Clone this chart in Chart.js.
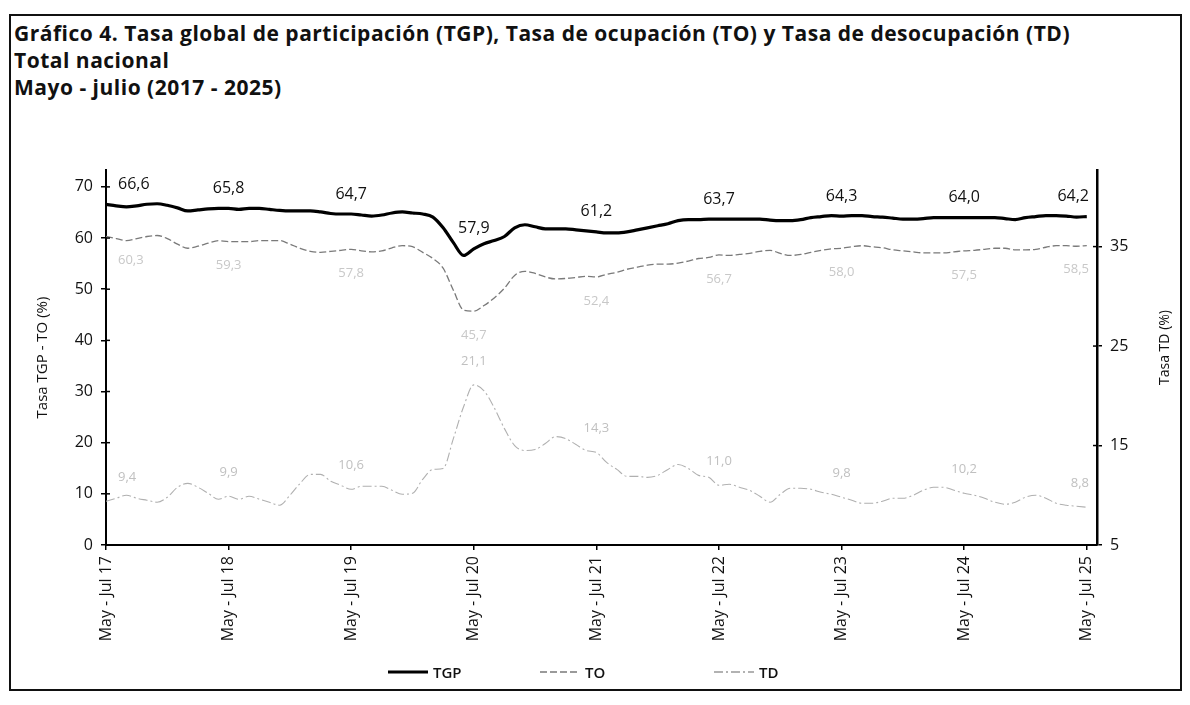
<!DOCTYPE html>
<html>
<head>
<meta charset="utf-8">
<script src="https://cdn.jsdelivr.net/npm/chart.js@4.4.1/dist/chart.umd.min.js"></script>
<style>
html,body{margin:0;padding:0;background:#fff;}
#wrap{position:relative;width:1190px;height:705px;overflow:hidden;background:#fff;}
#frame{position:absolute;left:9px;top:14px;width:1173px;height:677px;border:2px solid #111;box-sizing:border-box;}
#title{position:absolute;left:14px;top:20px;font-family:'Open Sans',sans-serif;font-weight:700;font-size:21px;letter-spacing:0.5px;line-height:27px;color:#111;white-space:nowrap;}
canvas{position:absolute;left:0;top:0;}
.leg{position:absolute;top:661px;height:22px;font-family:'Open Sans',sans-serif;font-weight:600;font-size:15px;line-height:22px;color:#111;}
.leg svg{position:absolute;left:0;top:0;}
.leg span{position:absolute;top:0;}
</style>
</head>
<body>
<div id="wrap">
<div id="frame"></div>
<div id="title">Gráfico 4. Tasa global de participación (TGP), Tasa de ocupación (TO) y Tasa de desocupación (TD)<br>Total nacional<br>Mayo - julio (2017 - 2025)</div>
<canvas id="c" width="1190" height="705"></canvas>
<div id="legend"></div>
</div>
<script>
// ---- data (monthly rolling quarters, May-Jul 2017 ... May-Jul 2025) ----
const xTickLabels = ['May - Jul 17','May - Jul 18','May - Jul 19','May - Jul 20','May - Jul 21','May - Jul 22','May - Jul 23','May - Jul 24','May - Jul 25'];
const labelIdx = [0,12,24,36,48,60,72,84,96];
const yLeftTicks = [0,10,20,30,40,50,60,70];
const yRightTicks = [5,15,25,35];
const seriesNames = ['TGP','TO','TD'];

const tgp = [66.6,66.3,66.1,66.3,66.6,66.7,66.4,65.9,65.3,65.5,65.7,65.8,
             65.8,65.6,65.8,65.8,65.6,65.4,65.3,65.3,65.3,65.1,64.8,64.7,
             64.7,64.5,64.3,64.5,64.9,65.1,64.9,64.7,64.1,62.0,59.1,56.6,
             57.9,58.9,59.5,60.3,62.0,62.6,62.2,61.8,61.8,61.8,61.6,61.4,
             61.2,61.0,61.0,61.2,61.6,62.0,62.4,62.8,63.4,63.6,63.6,63.7,
             63.7,63.7,63.7,63.7,63.7,63.5,63.4,63.4,63.6,64.0,64.2,64.4,
             64.3,64.4,64.4,64.2,64.1,63.9,63.7,63.7,63.8,64.0,64.0,64.0,
             64.0,64.0,64.0,64.0,63.8,63.6,64.0,64.2,64.4,64.4,64.3,64.1,
             64.2];
const to  = [60.3,59.9,59.5,59.9,60.3,60.5,59.9,58.8,58.0,58.4,59.0,59.5,
             59.3,59.3,59.3,59.5,59.5,59.5,58.8,58.0,57.4,57.2,57.4,57.6,
             57.8,57.5,57.3,57.5,58.1,58.5,58.3,57.2,56.0,54.1,49.8,45.9,
             45.7,46.8,48.3,50.2,52.7,53.5,53.1,52.4,52.0,52.1,52.3,52.5,
             52.4,52.9,53.3,53.9,54.3,54.7,54.9,54.9,55.1,55.5,56.0,56.2,
             56.7,56.6,56.8,57.0,57.4,57.6,57.0,56.6,56.8,57.2,57.6,57.9,
             58.0,58.3,58.5,58.3,58.1,57.7,57.5,57.3,57.1,57.1,57.1,57.3,
             57.5,57.6,57.8,58.0,58.0,57.7,57.7,57.8,58.2,58.5,58.5,58.4,
             58.5];
const td  = [9.4,9.7,10.0,9.7,9.5,9.3,9.8,10.8,11.2,10.8,10.2,9.6,
             9.9,9.6,9.9,9.6,9.3,9.0,10.0,11.2,12.1,12.1,11.4,11.0,
             10.6,10.9,10.9,10.9,10.5,10.1,10.2,11.6,12.6,12.7,15.7,18.9,
             21.1,20.5,18.8,16.7,15.0,14.5,14.6,15.2,15.9,15.7,15.1,14.5,
             14.3,13.3,12.6,11.9,11.9,11.8,12.0,12.6,13.1,12.7,12.0,11.8,
             11.0,11.1,10.8,10.5,9.9,9.3,10.1,10.7,10.7,10.6,10.3,10.1,
             9.8,9.5,9.2,9.2,9.4,9.7,9.7,10.0,10.5,10.8,10.8,10.5,
             10.2,10.0,9.7,9.3,9.1,9.3,9.8,10.0,9.7,9.2,9.0,8.9,
             8.8];

const toPts = arr => arr.map((v,i)=>({x:i,y:v}));
const FONT = "'Open Sans', sans-serif";

const styles = [
  {color:'#000', width:3.2, dash:[]},
  {color:'#7a7a7a', width:1.3, dash:[7,3]},
  {color:'#b0b0b0', width:1.1, dash:[9,3,2,3]}
];

const labelCfg = [
  {dy:-20, color:'#111', size:16, weight:'400'},
  {dy:24,  color:'#c8c8c8', size:13, weight:'400'},
  {dy:-24, color:'#c0c0c0', size:13, weight:'400'}
];

// HTML legend
const legendPos = [388, 540, 714];
const legendEl = document.getElementById('legend');
seriesNames.forEach((n,i)=>{
  const st = styles[i];
  const d = document.createElement('div');
  d.className='leg';
  d.style.left = legendPos[i]+'px';
  d.style.width = '90px';
  d.innerHTML = '<svg width="42" height="22"><line x1="0" y1="11" x2="40" y2="11" stroke="'+(i===2?'#999':st.color)+'" stroke-width="'+(i===0?3:1.4)+'" stroke-dasharray="'+(st.dash.length?st.dash.join(','):'none')+'"/></svg><span style="left:45px">'+n+'</span>';
  legendEl.appendChild(d);
});

const valueLabels = {
  id:'valueLabels',
  afterDatasetsDraw(chart){
    const ctx = chart.ctx, ca = chart.chartArea;
    ctx.save();
    ctx.textAlign='center'; ctx.textBaseline='middle';
    chart.data.datasets.forEach((ds,di)=>{
      const meta = chart.getDatasetMeta(di);
      const c = labelCfg[di];
      ctx.font = c.weight+' '+c.size+'px '+FONT;
      ctx.fillStyle = c.color;
      labelIdx.forEach(idx=>{
        const pt = meta.data[idx];
        const txt = ds.data[idx].y.toFixed(1).replace('.',',');
        const w = ctx.measureText(txt).width;
        let x = Math.max(ca.left + w/2 + 12, Math.min(ca.right - w/2 - 8, pt.x));
        ctx.fillText(txt, x, pt.y + c.dy);
      });
    });
    ctx.restore();
  },
  afterDraw(chart){
    const ctx = chart.ctx, ca = chart.chartArea;
    // inner halves of the axis tick marks (ticks cross the axis lines)
    ctx.save();
    ctx.strokeStyle='#000'; ctx.lineWidth=1.5;
    const yl = chart.scales.y, yr = chart.scales.y1;
    yLeftTicks.forEach(v=>{ const py = yl.getPixelForValue(v); ctx.beginPath(); ctx.moveTo(ca.left, py); ctx.lineTo(ca.left+4, py); ctx.stroke(); });
    yRightTicks.forEach(v=>{ const py = yr.getPixelForValue(v); ctx.beginPath(); ctx.moveTo(ca.right-4, py); ctx.lineTo(ca.right, py); ctx.stroke(); });
    ctx.restore();
    ctx.save();
    ctx.translate(1165, (ca.top+ca.bottom)/2 - 10);
    ctx.rotate(-Math.PI/2);
    ctx.textAlign='center'; ctx.textBaseline='middle';
    ctx.font = '400 14px '+FONT;
    ctx.fillStyle='#111';
    ctx.fillText('Tasa TD (%)',0,0);
    ctx.restore();
  }
};

new Chart(document.getElementById('c'), {
  type:'line',
  data:{
    datasets: [tgp, to, td].map((arr,i)=>({
      label: seriesNames[i], data: toPts(arr), yAxisID: i===2 ? 'y1' : 'y',
      borderColor: styles[i].color, borderWidth: styles[i].width, borderDash: styles[i].dash,
      pointRadius: 0, cubicInterpolationMode: 'monotone', fill: false
    }))
  },
  options:{
    responsive:false, animation:false,
    layout:{padding:{left:30,right:12,top:170,bottom:50}},
    plugins:{
      tooltip:{enabled:false},
      title:{display:false},
      legend:{display:false}
    },
    scales:{
      x:{
        type:'linear', min:0, max:97,
        afterBuildTicks(s){ s.ticks = labelIdx.map(v=>({value:v})); },
        afterFit(s){ s.height = 110; },
        ticks:{
          autoSkip:false, minRotation:90, maxRotation:90, padding:6,
          color:'#111', font:{family:FONT, size:16},
          callback(v){ const k = labelIdx.indexOf(v); return k>=0 ? xTickLabels[k] : null; }
        },
        grid:{drawOnChartArea:false, drawTicks:true, tickLength:5, color:'#000', lineWidth:1.5},
        border:{display:true, color:'#000', width:2}
      },
      y:{
        type:'linear', position:'left', min:0, max:73.3,
        afterBuildTicks(s){ s.ticks = yLeftTicks.map(v=>({value:v})); },
        afterFit(s){ s.width = 76; },
        ticks:{color:'#111', padding:8, font:{family:FONT, size:16}},
        grid:{drawOnChartArea:false, drawTicks:true, tickLength:5, color:'#000', lineWidth:1.5},
        border:{display:true, color:'#000', width:2},
        title:{display:true, text:'Tasa TGP - TO (%)', color:'#111', font:{family:FONT, size:15}, padding:{top:4,bottom:0}}
      },
      y1:{
        type:'linear', position:'right', min:5, max:42.7,
        afterBuildTicks(s){ s.ticks = yRightTicks.map(v=>({value:v})); },
        afterFit(s){ s.width = 81; },
        ticks:{color:'#111', padding:8, font:{family:FONT, size:16}},
        grid:{drawOnChartArea:false, drawTicks:true, tickLength:5, color:'#000', lineWidth:1.5},
        border:{display:true, color:'#000', width:2.5}
      }
    }
  },
  plugins:[valueLabels]
});
</script>
</body>
</html>
